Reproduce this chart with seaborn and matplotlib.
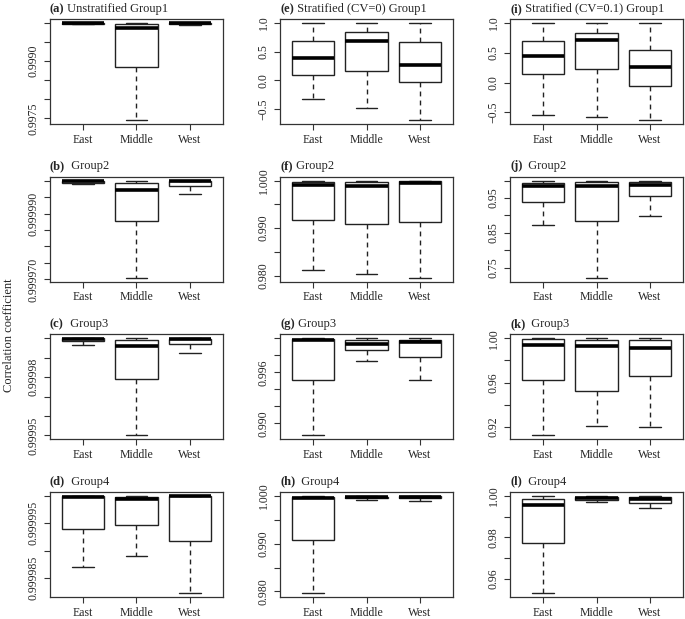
import numpy as np
import pandas as pd
import matplotlib
matplotlib.use("Agg")
import matplotlib.pyplot as plt
import seaborn as sns

regions = ["East", "Middle", "West"]

# five-number summaries per region: lower whisker, Q1, median, Q3, upper whisker
panel_a = [[0.99996, 0.99998, 0.99999, 1.0, 1.0],
           [0.99745, 0.99885, 0.99986, 0.99998, 1.0],
           [0.99995, 0.99997, 0.99999, 1.0, 1.0]]
panel_b = [[0.9999989, 0.9999994, 0.9999998, 1.0, 1.0],
           [0.9999705, 0.9999877, 0.9999970, 0.9999993, 1.0],
           [0.9999960, 0.9999983, 0.9999998, 0.9999999, 1.0]]
panel_c = [[0.9999966, 0.9999985, 0.9999995, 1.0, 1.0],
           [0.99995, 0.999979, 0.999996, 0.999999, 1.0],
           [0.9999923, 0.9999969, 0.9999997, 0.9999998, 1.0]]
panel_d = [[0.999987, 0.999994, 0.99999976, 0.99999988, 1.0],
           [0.99998896, 0.99999476, 0.99999945, 0.99999970, 1.0],
           [0.99998225, 0.99999177, 0.99999990, 0.99999995, 1.0]]
panel_e = [[-0.330, 0.090, 0.387, 0.679, 1.0],
           [-0.488, 0.166, 0.679, 0.848, 1.0],
           [-0.692, -0.035, 0.271, 0.662, 1.0]]
panel_f = [[0.98126, 0.99172, 0.99909, 0.99972, 1.0],
           [0.98035, 0.99081, 0.99881, 0.99965, 1.0],
           [0.97951, 0.99137, 0.99958, 0.99986, 1.0]]
panel_g = [[0.98859, 0.99512, 0.99977, 0.99990, 1.0],
           [0.99727, 0.99863, 0.99934, 0.99977, 1.0],
           [0.99512, 0.99777, 0.99953, 0.99977, 1.0]]
panel_h = [[0.97965, 0.99074, 0.99951, 0.99979, 1.0],
           [0.99916, 0.99951, 0.99965, 0.99979, 1.0],
           [0.99881, 0.99944, 0.99965, 0.99986, 1.0]]
panel_i = [[-0.545, 0.140, 0.444, 0.702, 1.0],
           [-0.573, 0.236, 0.719, 0.837, 1.0],
           [-0.629, -0.056, 0.258, 0.539, 1.0]]
panel_j = [[0.8724, 0.9395, 0.9847, 0.9943, 1.0],
           [0.7212, 0.8831, 0.9856, 0.9962, 1.0],
           [0.8975, 0.9559, 0.9875, 0.9952, 1.0]]
panel_k = [[0.9125, 0.9628, 0.9943, 0.9991, 1.0],
           [0.9212, 0.9527, 0.9931, 0.9982, 1.0],
           [0.9200, 0.9658, 0.9910, 0.9985, 1.0]]
panel_l = [[0.9533, 0.9773, 0.9955, 0.9984, 1.0],
           [0.9968, 0.9982, 0.9989, 0.9994, 1.0],
           [0.9941, 0.9965, 0.9986, 0.9994, 1.0]]

letters = ["a", "e", "i", "b", "f", "j", "c", "g", "k", "d", "h", "l"]
titles = ["Unstratified Group1", "Stratified (CV=0) Group1", "Stratified (CV=0.1) Group1",
          " Group2", "Group2", " Group2",
          " Group3", "Group3", " Group3",
          " Group4", " Group4", " Group4"]

# y ticks and which of them carry a label
yticks = [
    [0.9975, 0.9980, 0.9985, 0.9990, 0.9995, 1.0],
    [-0.5, 0.0, 0.5, 1.0],
    [-0.5, 0.0, 0.5, 1.0],
    [0.999970, 0.999975, 0.999980, 0.999985, 0.999990, 0.999995, 1.0],
    [0.980, 0.985, 0.990, 0.995, 1.0],
    [0.75, 0.80, 0.85, 0.90, 0.95, 1.0],
    [0.99995, 0.99996, 0.99997, 0.99998, 0.99999, 1.0],
    [0.990, 0.992, 0.994, 0.996, 0.998, 1.0],
    [0.92, 0.94, 0.96, 0.98, 1.0],
    [0.999985, 0.999990, 0.999995, 1.0],
    [0.980, 0.985, 0.990, 0.995, 1.0],
    [0.96, 0.97, 0.98, 0.99, 1.0],
]
ylabels = [
    ["0.9975", "", "", "0.9990", "", ""],
    ["\u22120.5", "0.0", "0.5", "1.0"],
    ["\u22120.5", "0.0", "0.5", "1.0"],
    ["0.999970", "", "", "", "0.999990", "", ""],
    ["0.980", "", "0.990", "", "1.000"],
    ["0.75", "", "0.85", "", "0.95", ""],
    ["0.99995", "", "", "0.99998", "", ""],
    ["0.990", "", "", "0.996", "", ""],
    ["0.92", "", "0.96", "", "1.00"],
    ["0.999985", "", "0.999995", ""],
    ["0.980", "", "0.990", "", "1.000"],
    ["0.96", "", "0.98", "", "1.00"],
]

panels = [panel_a, panel_e, panel_i, panel_b, panel_f, panel_j,
          panel_c, panel_g, panel_k, panel_d, panel_h, panel_l]

sns.set_style("ticks")
plt.rcParams["font.family"] = ["Liberation Serif", "DejaVu Serif"]
plt.rcParams["font.size"] = 8.5

fig, axes = plt.subplots(4, 3, figsize=(6.85, 6.19), dpi=100)
fig.subplots_adjust(left=50 / 685, right=683 / 685, top=1 - 19 / 619,
                    bottom=1 - 597 / 619, wspace=0.33, hspace=0.50)

for ax, vals, letter, title, ticks, labs in zip(axes.flat, panels, letters, titles, yticks, ylabels):
    df = pd.DataFrame({"region": np.repeat(regions, 5),
                       "r": np.concatenate(vals)})
    sns.boxplot(data=df, x="region", y="r", order=regions, ax=ax,
                color="white", linecolor="#222222", linewidth=1.0, width=0.8,
                whis=(0, 100), showfliers=False,
                whiskerprops={"linestyle": (0, (3.5, 3))},
                medianprops={"linewidth": 2.6, "color": "black"})
    ax.set_xlim(-0.62, 2.62)
    lo = min(v[0] for v in vals)
    hi = max(v[-1] for v in vals)
    pad = (hi - lo) * 0.04
    ax.set_ylim(lo - pad, hi + pad)
    ax.set_yticks(ticks, labels=labs)
    ax.set_xlabel("")
    ax.set_ylabel("")
    for s in ax.spines.values():
        s.set_visible(True)
        s.set_color("#333333")
        s.set_linewidth(0.9)
    ax.tick_params(axis="both", length=4.5, width=0.8, color="#333333", labelsize=8.5)
    ax.tick_params(axis="x", pad=2.5)
    ax.tick_params(axis="y", labelrotation=90, pad=3)
    for t in ax.get_yticklabels():
        t.set_va("center")
    t1 = ax.annotate(f"({letter})", xy=(0, 1), xycoords="axes fraction",
                     xytext=(0, 3), textcoords="offset points",
                     ha="left", va="bottom", fontweight="bold", fontsize=9)
    ax.annotate(" " + title, xy=(1, 0), xycoords=t1, ha="left", va="bottom", fontsize=9)

fig.text(0.013, 1 - 335 / 619, "Correlation coefficient", rotation=90,
         ha="center", va="center", fontsize=9)

fig.savefig("out.png", dpi=100)
